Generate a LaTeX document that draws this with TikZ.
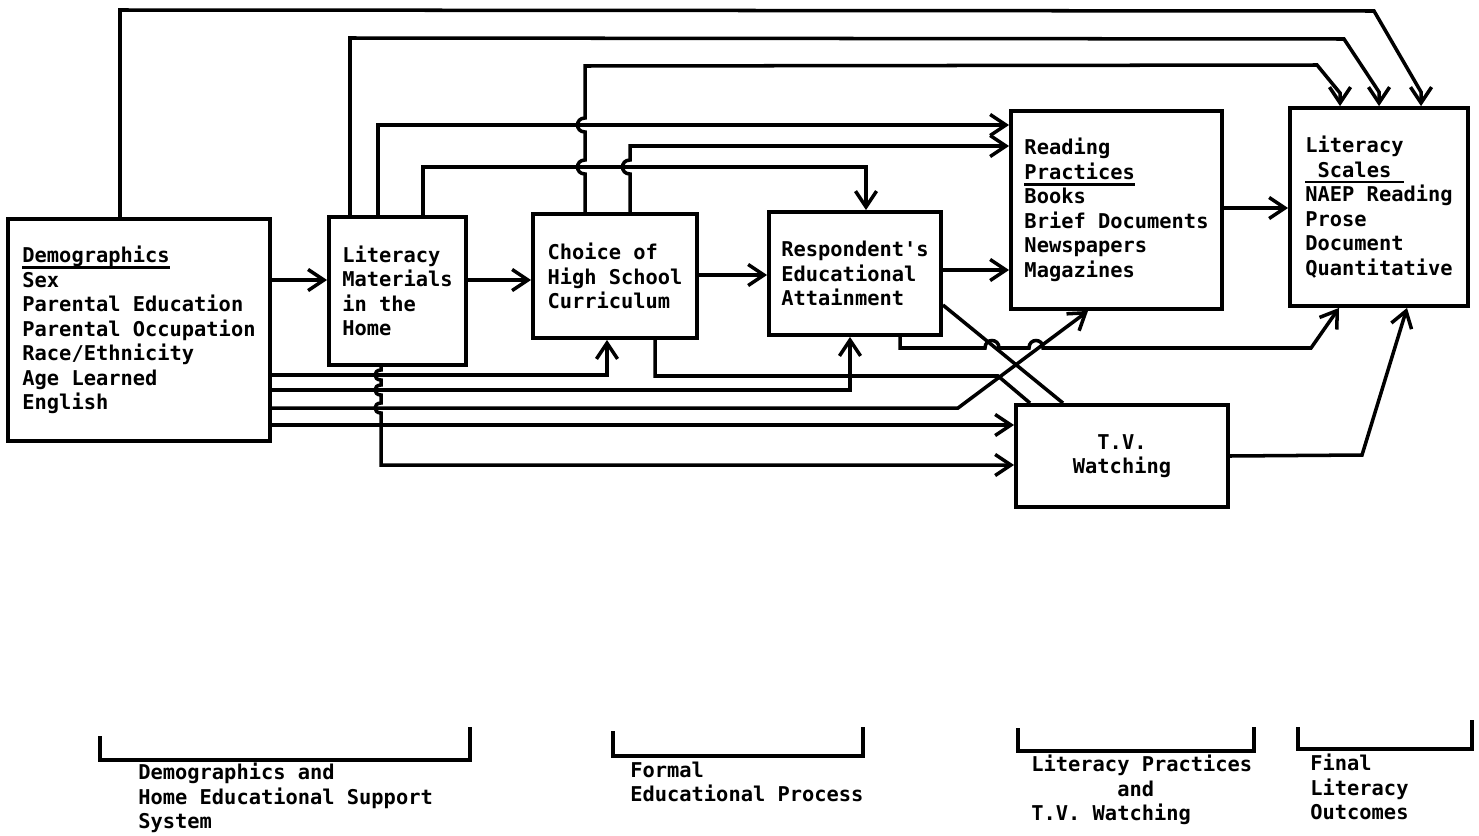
\documentclass[tikz,border=0pt]{standalone}
\usepackage{fontspec}
\setmonofont{DejaVu Sans Mono}
\usetikzlibrary{arrows.meta}
\newsavebox{\textosub}
\newcommand{\subrayado}[1]{\sbox{\textosub}{#1}\rlap{\rule[-3.6pt]{\wd\textosub}{1.5pt}}\usebox{\textosub}}

\begin{document}
\begin{tikzpicture}[x=0.02cm,y=-0.02cm]
%----------estilos---------
\tikzset{caja/.style={
draw,
line width=2.2pt,
align=left,
inner sep=0pt,
font=\ttfamily\bfseries\fontsize{11.6}{13.95}\selectfont},
rotulo/.style={
anchor=west,
align=left,
inner sep=0pt,
font=\ttfamily\bfseries\fontsize{11.6}{13.95}\selectfont},
flecha/.style={line width=2pt,-{Straight Barb[length=9pt,width=12pt]}},
linea/.style={line width=2pt}};

\useasboundingbox (0,0) rectangle (1479,835);

%------------ cajas ---------------
\node[caja,minimum width=5.24cm,minimum height=4.44cm] (demo) at (139,330) {\subrayado{Demographics}\\Sex\\Parental Education\\Parental Occupation\\Race/Ethnicity\\Age Learned\\English};
\node[caja,minimum width=2.74cm,minimum height=2.96cm] (litmat) at (397.5,291) {Literacy\\Materials\\in the\\Home};
\node[caja,minimum width=3.28cm,minimum height=2.48cm] (choice) at (615,276) {Choice of\\High School\\Curriculum};
\node[caja,minimum width=3.44cm,minimum height=2.46cm] (resp) at (855,273.5) {Respondent's\\Educational\\Attainment};
\node[caja,minimum width=4.22cm,minimum height=3.96cm] (reading) at (1116.5,210) {Reading\\\subrayado{Practices}\\Books\\Brief Documents\\Newspapers\\Magazines};
\node[caja,minimum width=3.56cm,minimum height=3.96cm] (scales) at (1379,207) {Literacy\\\subrayado{\hphantom{S}Scales\hphantom{S}}\\NAEP Reading\\Prose\\Document\\Quantitative};
\node[caja,align=center,minimum width=4.24cm,minimum height=2.04cm] (tv) at (1122,456) {T.V.\\Watching};

% -----------flechas principales----------------
\draw[flecha] (demo.east |- 0,280) -- (litmat.west |- 0,280);
\draw[flecha] (litmat.east |- 0,280) -- (choice.west |- 0,280);
\draw[flecha] (choice.east |- 0,275) -- (resp.west |- 0,275);
\draw[flecha] (resp.east |- 0,270) -- (reading.west |- 0,270);
\draw[flecha] (reading.east |- 0,208) -- (scales.west |- 0,208);

% -----------flechas de arriba----------------
\draw[flecha] (demo.north -| 120,0) -- (120,10) -- (1374,11) -- (1421,92) -- (scales.north -| 1421,0);
\draw[flecha] (litmat.north -| 350,0) -- (350,38) -- (1344,39) -- (1379,92) -- (scales.north -| 1379,0);
\draw[flecha] (choice.north -| 585,0) -- (585,174) .. controls (575,174) and (575,160) .. (585,160) -- (585,132) .. controls (575,132) and (575,118) .. (585,118) -- (585,66) -- (1317,65) -- (1340,93) -- (scales.north -| 1340,0);
\draw[flecha] (litmat.north -| 378,0) -- (378,125) -- (reading.west |- 0,125);
\draw[flecha] (litmat.north -| 423,0) -- (423,167) -- (866,167) -- (resp.north -| 866,0);
\draw[flecha] (choice.north -| 630,0) -- (630,174) .. controls (620,174) and (620,160) .. (630,160) -- (630,146) -- (reading.west |- 0,146);

% -----------flechas de abajo----------------
\draw[flecha] (demo.east |- 0,375) -- (607,375) -- (choice.south -| 607,0);
\draw[flecha] (demo.east |- 0,390) -- (850,390) -- (resp.south -| 850,0);
\draw[flecha] (demo.east |- 0,408) -- (958,408) -- (reading.south -| 1088,0);
\draw[flecha] (demo.east |- 0,425) -- (tv.west |- 0,425);
\draw[flecha] (litmat.south -| 381,0) -- (381,370) .. controls (373,370) and (373,380) .. (381,380) -- (381,385) .. controls (373,385) and (373,395) .. (381,395) -- (381,403) .. controls (373,403) and (373,413) .. (381,413) -- (381,465) -- (tv.west |- 0,465);
\draw[linea] (choice.south -| 655,0) -- (655,376) -- (998,376) -- (tv.north -| 1030,0);
\draw[linea] (resp.east |- 0,305) -- (tv.north -| 1063,0);
\draw[flecha] (resp.south -| 900,0) -- (900,348) -- (985,348) .. controls (985,338) and (999,338) .. (999,348) -- (1029,348) .. controls (1029,338) and (1043,338) .. (1043,348) -- (1311,348) -- (scales.south -| 1339,0);
\draw[flecha] (tv.east |- 0,456) -- (1362,455) -- (scales.south -| 1407,0);

% -----------grupos----------------
\draw[linea] (100,736) |- (470,760) -- (470,727);
\draw[linea] (613,731) |- (863,756) -- (863,727);
\draw[linea] (1018,728) |- (1254,751) -- (1254,727);
\draw[linea] (1298,727) |- (1472,749) -- (1472,720);

\node[rotulo] (grupo1) at (138,798) {Demographics and\\Home Educational Support\\System};
\node[rotulo] (grupo2) at (630,782) {Formal\\Educational Process};
\node[rotulo] (grupo3) at (1031,790) {Literacy Practices\\\hphantom{Literac}and\\T.V. Watching};
\node[rotulo] (grupo4) at (1310,787) {Final\\Literacy\\Outcomes};
\end{tikzpicture}
\end{document}
